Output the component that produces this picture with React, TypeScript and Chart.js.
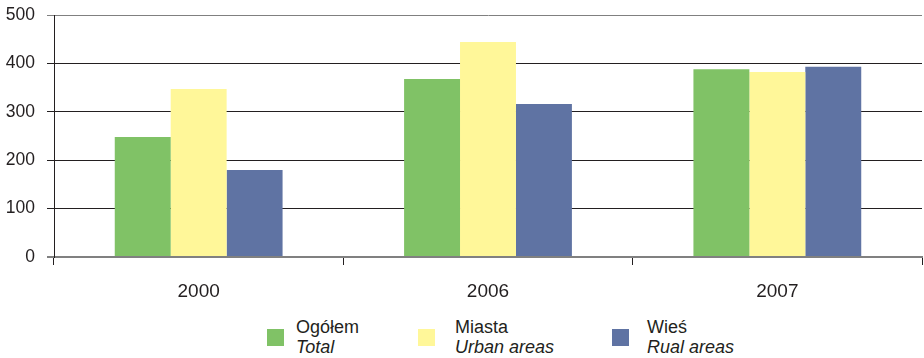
import React, { useEffect, useRef } from "react";
import { Chart, registerables } from "chart.js";

Chart.register(...registerables);

const categories = ["2000", "2006", "2007"];
const totalValues = [248, 368, 388];
const urbanValues = [347, 444, 382];
const ruralValues = [180, 316, 393];
const yTicks = [0, 100, 200, 300, 400, 500];

const seriesNames = [
  { pl: "Ogółem", en: "Total", color: "#80c266" },
  { pl: "Miasta", en: "Urban areas", color: "#fff799" },
  { pl: "Wieś", en: "Rual areas", color: "#5f73a3" },
];

const FONT = "'Liberation Sans', Arial, sans-serif";

export default function App() {
  const ref = useRef<HTMLCanvasElement | null>(null);

  useEffect(() => {
    if (!ref.current) return;
    const chart = new Chart(ref.current, {
      type: "bar",
      data: {
        labels: categories,
        datasets: [
          { label: seriesNames[0].pl, data: totalValues, backgroundColor: seriesNames[0].color },
          { label: seriesNames[1].pl, data: urbanValues, backgroundColor: seriesNames[1].color },
          { label: seriesNames[2].pl, data: ruralValues, backgroundColor: seriesNames[2].color },
        ],
      },
      options: {
        animation: false,
        responsive: false,
        maintainAspectRatio: false,
        layout: { padding: { top: 15, right: 2, left: 0, bottom: 0 } },
        datasets: { bar: { barPercentage: 1, categoryPercentage: 0.58 } },
        plugins: { legend: { display: false }, tooltip: { enabled: false } },
        scales: {
          x: {
            offset: true,
            grid: {
              offset: true,
              drawOnChartArea: false,
              drawTicks: true,
              tickLength: 8,
              color: "#231f20",
              lineWidth: 1,
            },
            border: { display: true, color: "#808080", width: 2 },
            ticks: {
              padding: 15,
              color: "#231f20",
              font: { family: FONT, size: 19 },
            },
            afterFit: (s: any) => {
              s.height = 48;
            },
          },
          y: {
            min: 0,
            max: 500,
            afterBuildTicks: (s: any) => {
              s.ticks = yTicks.map((v) => ({ value: v }));
            },
            grid: {
              color: (c: any) => (c.tick && (c.tick.value === 0 || c.tick.value === 500) ? "#808080" : "#231f20"),
              lineWidth: (c: any) => (c.tick && c.tick.value === 0 ? 2 : 1),
              tickLength: 7,
              drawTicks: true,
            },
            border: { display: true, color: "#231f20", width: 1 },
            ticks: {
              padding: 12,
              color: "#231f20",
              font: { family: FONT, size: 17.5 },
            },
            afterFit: (s: any) => {
              s.width = 54;
              s.paddingTop = 10;
              s.paddingBottom = 10;
            },
          },
        },
      },
    });
    return () => chart.destroy();
  }, []);

  const textStyle: React.CSSProperties = {
    fontFamily: FONT,
    fontSize: 18,
    lineHeight: "20px",
    color: "#231f20",
    whiteSpace: "nowrap",
  };

  const swatchLefts = [267, 418, 612];
  const textLefts = [296, 455, 647];

  return (
    <div style={{ position: "absolute", left: 0, top: 0, width: 924, height: 358, background: "#fff" }}>
      <canvas ref={ref} width={924} height={305} style={{ display: "block", width: 924, height: 305 }} />
      {seriesNames.map((s, i) => (
        <React.Fragment key={s.pl}>
          <div
            style={{ position: "absolute", left: swatchLefts[i], top: 329, width: 17, height: 17, background: s.color }}
          />
          <div style={{ ...textStyle, position: "absolute", left: textLefts[i], top: 317 }}>
            <div>{s.pl}</div>
            <div style={{ fontStyle: "italic" }}>{s.en}</div>
          </div>
        </React.Fragment>
      ))}
    </div>
  );
}
